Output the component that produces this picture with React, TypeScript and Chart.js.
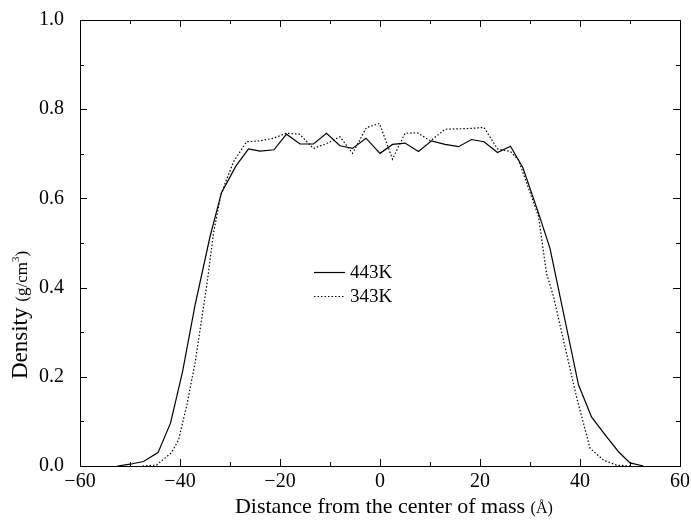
import React, { useEffect, useRef } from "react";
import { Chart, registerables } from "chart.js";

Chart.register(...registerables);

const hotX = [-52.5, -50, -47.3, -44.4, -41.9, -39.5, -37, -34, -31.7, -28.8, -26.3, -24, -21.2, -18.7, -16, -13.3, -10.7, -8, -5.5, -2.8, 0, 2.5, 5, 7.7, 10.3, 13, 15.7, 18.3, 20.8, 23.5, 26.1, 28.6, 31.7, 34, 39.7, 42.3, 45.3, 47.7, 50, 52.7];
const hotY = [0, 0.004, 0.01, 0.03, 0.096, 0.211, 0.36, 0.514, 0.613, 0.673, 0.711, 0.706, 0.709, 0.744, 0.722, 0.722, 0.746, 0.718, 0.712, 0.735, 0.701, 0.721, 0.724, 0.705, 0.729, 0.721, 0.716, 0.732, 0.727, 0.703, 0.717, 0.668, 0.567, 0.488, 0.182, 0.11, 0.066, 0.032, 0.007, 0];

const coldX = [-47.5, -44.7, -41.7, -40.3, -38.7, -37, -35.7, -34.5, -33.3, -31.8, -29.3, -26.7, -24, -21.3, -18.8, -16.1, -13.3, -10.7, -8, -5.5, -2.7, -0.1, 2.5, 5, 7.5, 10.1, 13, 15.7, 18.3, 20.8, 23.5, 26.1, 27.7, 31.7, 33.3, 34.7, 39.3, 42, 44.7, 47.3, 50];
const coldY = [0, 0.002, 0.03, 0.058, 0.133, 0.23, 0.327, 0.417, 0.522, 0.61, 0.682, 0.727, 0.729, 0.735, 0.746, 0.744, 0.712, 0.723, 0.738, 0.701, 0.759, 0.768, 0.688, 0.746, 0.747, 0.729, 0.755, 0.756, 0.757, 0.759, 0.711, 0.705, 0.686, 0.56, 0.432, 0.38, 0.155, 0.04, 0.013, 0.002, 0];

const seriesLabels = ["443K", "343K"];
const xRange = [-60, 60];
const yRange = [0, 1];

const FONT = "'Liberation Serif', 'Times New Roman', serif";

const framePlugin = {
  id: "frameTicks",
  afterDatasetsDraw(chart: any) {
    const { ctx, chartArea, scales } = chart;
    const { left, right, top, bottom } = chartArea;
    const x = scales.x;
    const y = scales.y;
    ctx.save();
    ctx.strokeStyle = "#000";
    ctx.lineWidth = 1;
    ctx.strokeRect(Math.round(left) + 0.5, Math.round(top) + 0.5, Math.round(right - left), Math.round(bottom - top));
    ctx.beginPath();
    for (let v = xRange[0]; v <= xRange[1]; v += 10) {
      const px = Math.round(x.getPixelForValue(v)) + 0.5;
      const len = v % 20 === 0 ? 7 : 4;
      ctx.moveTo(px, bottom);
      ctx.lineTo(px, bottom - len);
      ctx.moveTo(px, top);
      ctx.lineTo(px, top + len);
    }
    for (let i = 0; i <= 10; i++) {
      const v = i / 10;
      const py = Math.round(y.getPixelForValue(v)) + 0.5;
      const len = i % 2 === 0 ? 7 : 4;
      ctx.moveTo(left, py);
      ctx.lineTo(left + len, py);
      ctx.moveTo(right, py);
      ctx.lineTo(right - len, py);
    }
    ctx.stroke();

    // legend
    const lx0 = 314, lx1 = 345;
    const rows = [272, 296];
    chart.data.datasets.forEach((ds: any, i: number) => {
      const ry = rows[i];
      ctx.beginPath();
      ctx.setLineDash(ds.borderDash || []);
      ctx.lineWidth = ds.borderWidth;
      ctx.moveTo(lx0, ry + 0.5);
      ctx.lineTo(lx1, ry + 0.5);
      ctx.stroke();
      ctx.setLineDash([]);
      ctx.fillStyle = "#000";
      ctx.font = `19px ${FONT}`;
      ctx.textBaseline = "middle";
      ctx.textAlign = "left";
      ctx.fillText(ds.label, 350, ry + 1);
    });

    // axis titles
    ctx.fillStyle = "#000";
    ctx.textBaseline = "alphabetic";
    const main = "Distance from the center of mass ";
    const unit = "(Å)";
    ctx.font = `22px ${FONT}`;
    const w1 = ctx.measureText(main).width;
    const w1b = ctx.measureText(main.trim()).width;
    const cx = (left + right) / 2;
    const sx = cx - w1b / 2;
    ctx.textAlign = "left";
    ctx.fillText(main, sx, 513);
    ctx.font = `16px ${FONT}`;
    ctx.fillText(unit, sx + w1, 513);

    // y title
    ctx.save();
    ctx.translate(27, 315);
    ctx.rotate(-Math.PI / 2);
    const ym = "Density ";
    const yu = "(g/cm";
    const yu2 = ")";
    ctx.font = `23px ${FONT}`;
    const a = ctx.measureText(ym).width;
    ctx.font = `17px ${FONT}`;
    const b = ctx.measureText(yu).width;
    ctx.font = `11px ${FONT}`;
    const c = ctx.measureText("3").width;
    ctx.font = `17px ${FONT}`;
    const d = ctx.measureText(yu2).width;
    const s = -(a + b + c + d) / 2;
    ctx.font = `23px ${FONT}`;
    ctx.fillText(ym, s, 0);
    ctx.font = `17px ${FONT}`;
    ctx.fillText(yu, s + a, 0);
    ctx.font = `11px ${FONT}`;
    ctx.fillText("3", s + a + b, -8);
    ctx.font = `17px ${FONT}`;
    ctx.fillText(yu2, s + a + b + c, 0);
    ctx.restore();

    ctx.restore();
  },
};

export default function App() {
  const ref = useRef<HTMLCanvasElement | null>(null);
  useEffect(() => {
    if (!ref.current) return;
    const chart = new Chart(ref.current, {
      type: "line",
      data: {
        datasets: [
          {
            label: seriesLabels[0],
            data: hotX.map((v, i) => ({ x: v, y: hotY[i] })),
            borderColor: "#000",
            borderWidth: 1.2,
            pointRadius: 0,
            fill: false,
            tension: 0,
          },
          {
            label: seriesLabels[1],
            data: coldX.map((v, i) => ({ x: v, y: coldY[i] })),
            borderColor: "#000",
            borderWidth: 1.2,
            borderDash: [1.5, 2],
            pointRadius: 0,
            fill: false,
            tension: 0,
          },
        ],
      },
      options: {
        animation: false,
        responsive: false,
        maintainAspectRatio: false,
        layout: { padding: { left: 0, right: 11, top: 20, bottom: 0 } },
        plugins: { legend: { display: false }, tooltip: { enabled: false }, title: { display: false } },
        scales: {
          x: {
            type: "linear",
            min: xRange[0],
            max: xRange[1],
            grid: { display: false, drawTicks: false },
            border: { display: false },
            ticks: {
              stepSize: 20,
              color: "#000",
              padding: 4,
              maxRotation: 0,
              font: { family: FONT, size: 20 },
              callback: (v: any) => String(v).replace("-", "\u2212"),
            },
            afterFit: (s: any) => { s.height = 55; s.paddingLeft = 0; s.paddingRight = 0; },
          },
          y: {
            type: "linear",
            min: yRange[0],
            max: yRange[1],
            grid: { display: false, drawTicks: false },
            border: { display: false },
            ticks: {
              stepSize: 0.2,
              color: "#000",
              padding: 16,
              font: { family: FONT, size: 20 },
              callback: (v: any) => Number(v).toFixed(1),
            },
            afterFit: (s: any) => { s.width = 80; s.paddingTop = 0; s.paddingBottom = 0; },
          },
        },
      },
      plugins: [framePlugin],
    });
    return () => chart.destroy();
  }, []);
  return (
    <div style={{ position: "fixed", left: 0, top: 0, width: 691, height: 521, background: "#fff" }}>
      <canvas ref={ref} width={691} height={521} style={{ display: "block" }} />
    </div>
  );
}
